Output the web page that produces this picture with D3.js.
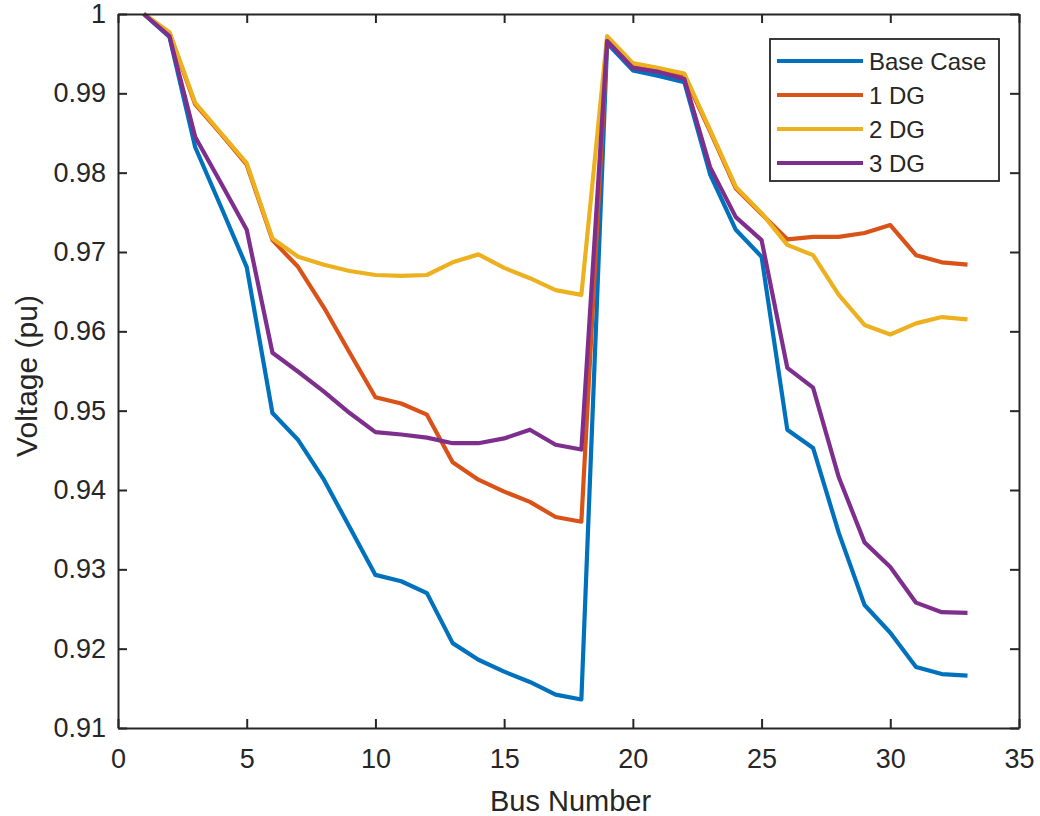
<!DOCTYPE html>
<html>
<head>
<meta charset="utf-8">
<script src="https://cdn.jsdelivr.net/npm/d3@7"></script>
<style>
  html, body { margin: 0; padding: 0; background: #fff; }
  svg { display: block; font-family: "Liberation Sans", Arial, sans-serif; }
</style>
</head>
<body>
<svg id="chart" width="1040" height="816"></svg>
<script>
const buses = d3.range(1, 34);
const seriesNames = ["Base Case", "1 DG", "2 DG", "3 DG"];
const seriesColors = ["#0072BD", "#D95319", "#EDB120", "#7E2F8E"];

const baseCase = [1.0, 0.9971, 0.9832, 0.9757, 0.9681, 0.9497, 0.9463, 0.9413, 0.9353, 0.9293,
  0.9285, 0.9270, 0.9207, 0.9186, 0.9171, 0.9158, 0.9142, 0.9136, 0.9963, 0.9929,
  0.9922, 0.9914, 0.9798, 0.9728, 0.9694, 0.9476, 0.9453, 0.9346, 0.9255, 0.9220,
  0.9177, 0.9168, 0.9166];
const dg1 = [1.0, 0.9976, 0.9886, 0.9849, 0.9810, 0.9715, 0.9681, 0.9630, 0.9573, 0.9517,
  0.9509, 0.9495, 0.9435, 0.9413, 0.9398, 0.9385, 0.9366, 0.9360, 0.9967, 0.9935,
  0.9930, 0.9922, 0.9852, 0.9780, 0.9748, 0.9716, 0.9719, 0.9719, 0.9724, 0.9734,
  0.9696, 0.9687, 0.9684];
const dg2 = [1.0, 0.9977, 0.9888, 0.9850, 0.9812, 0.9717, 0.9694, 0.9684, 0.9676, 0.9671,
  0.9670, 0.9671, 0.9687, 0.9697, 0.9680, 0.9667, 0.9652, 0.9646, 0.9972, 0.9938,
  0.9932, 0.9925, 0.9854, 0.9782, 0.9749, 0.9709, 0.9696, 0.9646, 0.9608, 0.9596,
  0.9610, 0.9618, 0.9615];
const dg3 = [1.0, 0.9972, 0.9845, 0.9787, 0.9728, 0.9573, 0.9549, 0.9524, 0.9497, 0.9473,
  0.9470, 0.9466, 0.9459, 0.9459, 0.9465, 0.9476, 0.9457, 0.9451, 0.9966, 0.9932,
  0.9927, 0.9918, 0.9807, 0.9744, 0.9715, 0.9554, 0.9529, 0.9416, 0.9334, 0.9303,
  0.9258, 0.9246, 0.9245];

const xTicks = [0, 5, 10, 15, 20, 25, 30, 35];
const yTicks = [0.91, 0.92, 0.93, 0.94, 0.95, 0.96, 0.97, 0.98, 0.99, 1.0];
const xLabel = "Bus Number";
const yLabel = "Voltage (pu)";

const allSeries = [baseCase, dg1, dg2, dg3];

(function () {
  const svg = d3.select("#chart");
  const pL = 118, pR = 1019, pT = 14, pB = 728;
  const axisColor = "#262626";

  const x = d3.scaleLinear().domain([0, 35]).range([pL, pR]);
  const y = d3.scaleLinear().domain([0.91, 1.0]).range([pB, pT]);

  // lines
  const line = d3.line().x((d, i) => x(buses[i])).y(d => y(d));
  const lineG = svg.append("g");
  allSeries.forEach((s, k) => {
    lineG.append("path")
      .datum(s)
      .attr("d", line)
      .attr("fill", "none")
      .attr("stroke", seriesColors[k])
      .attr("stroke-width", 4.2)
      .attr("stroke-linejoin", "round")
      .attr("stroke-linecap", "butt");
  });

  // axes
  const fmtY = d => (d === 1 ? "1" : d3.format(".2f")(d));
  const bottomAxis = svg.append("g").attr("transform", `translate(0,${pB})`)
    .call(d3.axisBottom(x).tickValues(xTicks).tickSizeInner(-9).tickSizeOuter(0).tickPadding(21).tickFormat(d3.format("d")));
  const leftAxis = svg.append("g").attr("transform", `translate(${pL},0)`)
    .call(d3.axisLeft(y).tickValues(yTicks).tickSizeInner(-9).tickSizeOuter(0).tickPadding(12).tickFormat(fmtY));
  const topAxis = svg.append("g").attr("transform", `translate(0,${pT})`)
    .call(d3.axisTop(x).tickValues(xTicks).tickSizeInner(-9).tickSizeOuter(0).tickFormat(""));
  const rightAxis = svg.append("g").attr("transform", `translate(${pR},0)`)
    .call(d3.axisRight(y).tickValues(yTicks).tickSizeInner(-9).tickSizeOuter(0).tickFormat(""));

  [bottomAxis, leftAxis, topAxis, rightAxis].forEach(g => {
    g.select(".domain").attr("stroke", axisColor).attr("stroke-width", 2);
    g.selectAll(".tick line").attr("stroke", axisColor).attr("stroke-width", 2);
    g.selectAll(".tick text").attr("fill", axisColor)
      .style("font-size", "27px")
      .style("font-family", "'Liberation Sans', Arial, sans-serif");
  });

  // axis labels
  svg.append("text")
    .attr("x", (pL + pR) / 2 + 2)
    .attr("y", 811)
    .attr("text-anchor", "middle")
    .attr("fill", axisColor)
    .style("font-size", "29px")
    .text(xLabel);

  svg.append("text")
    .attr("transform", `translate(37,${(pT + pB) / 2 + 5}) rotate(-90)`)
    .attr("text-anchor", "middle")
    .attr("fill", axisColor)
    .style("font-size", "30px")
    .text(yLabel);

  // legend
  const lg = svg.append("g");
  lg.append("rect")
    .attr("x", 770).attr("y", 39).attr("width", 229).attr("height", 142)
    .attr("fill", "#fff").attr("stroke", axisColor).attr("stroke-width", 1.8);
  const rowY = [61, 95, 129, 163];
  seriesNames.forEach((name, k) => {
    lg.append("line")
      .attr("x1", 777).attr("x2", 863)
      .attr("y1", rowY[k]).attr("y2", rowY[k])
      .attr("stroke", seriesColors[k]).attr("stroke-width", 4.2);
    lg.append("text")
      .attr("x", 869).attr("y", rowY[k])
      .attr("dy", "0.36em")
      .attr("fill", axisColor)
      .style("font-size", "24px")
      .text(name);
  });
})();
</script>
</body>
</html>
